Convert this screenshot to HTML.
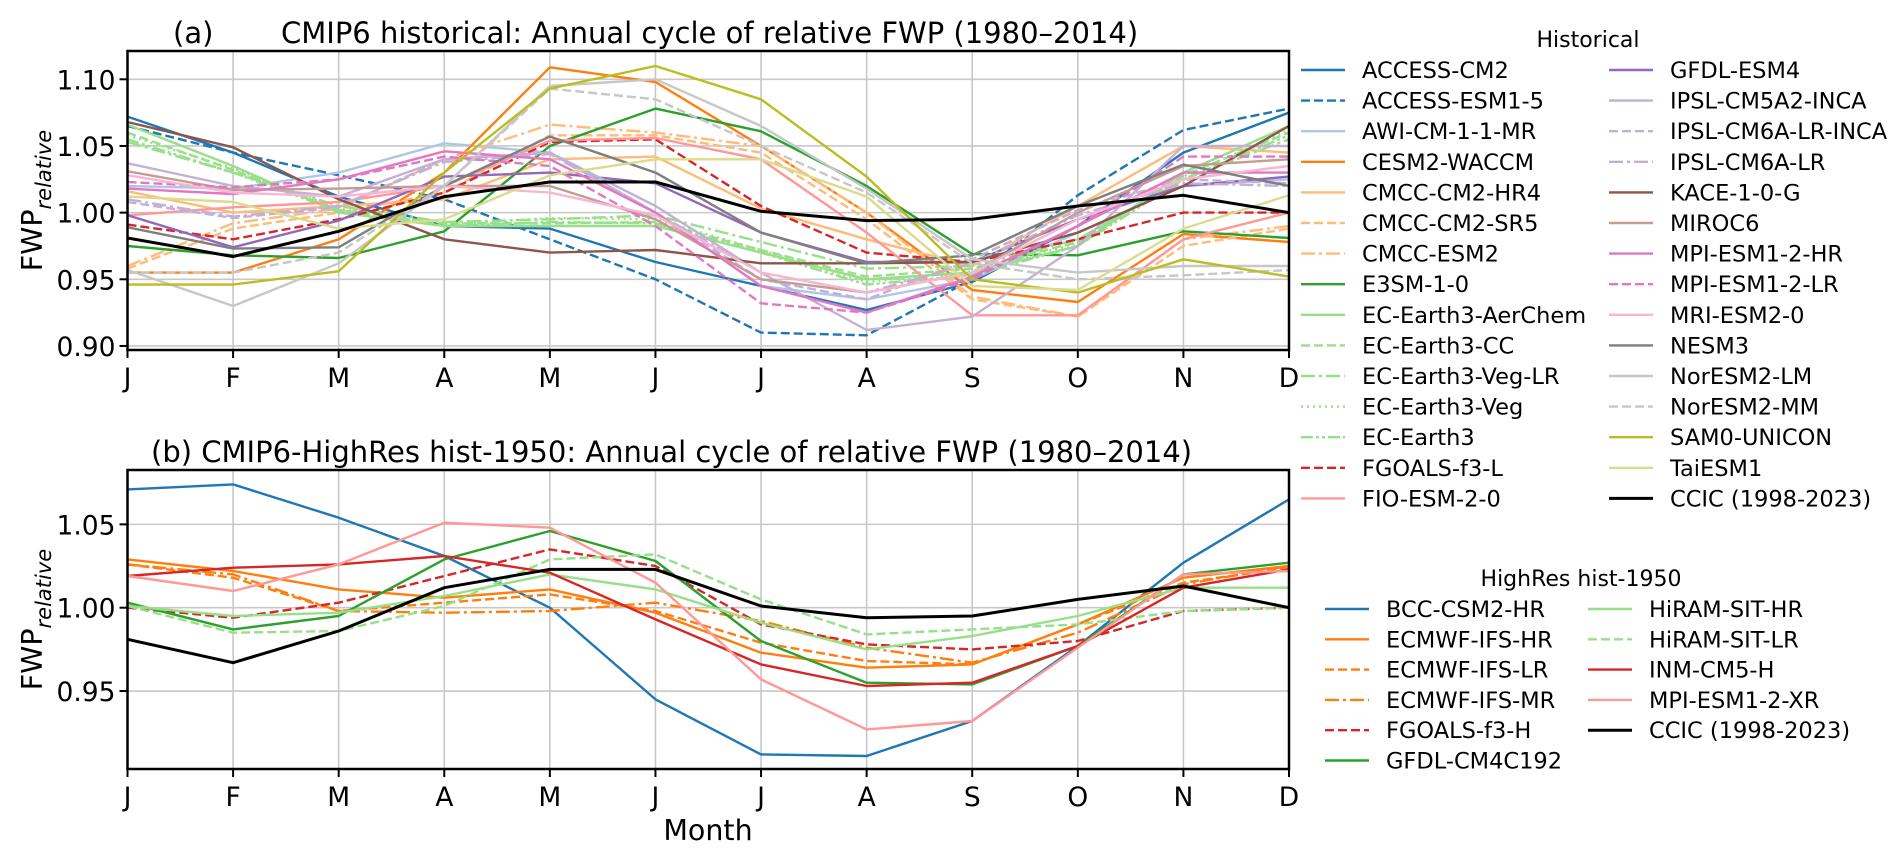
<!DOCTYPE html>
<html><head><meta charset="utf-8"><style>
html,body{margin:0;padding:0;background:#fff;}
svg{display:block;font-family:"DejaVu Sans","Liberation Sans",sans-serif;}
</style></head><body>
<svg id="fig" width="1892" height="860" viewBox="0 0 1892 860" xmlns="http://www.w3.org/2000/svg"></svg>
<script>
const months = ["J","F","M","A","M","J","J","A","S","O","N","D"];
const yTicksA = [0.90, 0.95, 1.00, 1.05, 1.10];
const yTickLabelsA = ["0.90","0.95","1.00","1.05","1.10"];
const yTicksB = [0.95, 1.00, 1.05];
const yTickLabelsB = ["0.95","1.00","1.05"];

const histNames = ["ACCESS-CM2","ACCESS-ESM1-5","AWI-CM-1-1-MR","CESM2-WACCM","CMCC-CM2-HR4","CMCC-CM2-SR5","CMCC-ESM2","E3SM-1-0","EC-Earth3-AerChem","EC-Earth3-CC","EC-Earth3-Veg-LR","EC-Earth3-Veg","EC-Earth3","FGOALS-f3-L","FIO-ESM-2-0","GFDL-ESM4","IPSL-CM5A2-INCA","IPSL-CM6A-LR-INCA","IPSL-CM6A-LR","KACE-1-0-G","MIROC6","MPI-ESM1-2-HR","MPI-ESM1-2-LR","MRI-ESM2-0","NESM3","NorESM2-LM","NorESM2-MM","SAM0-UNICON","TaiESM1","CCIC (1998-2023)"];
const histValues = [
[1.072,1.045,1.012,0.990,0.988,0.963,0.945,0.927,0.948,0.990,1.045,1.075],
[1.065,1.045,1.028,1.010,0.980,0.950,0.910,0.908,0.950,1.013,1.062,1.078],
[1.020,1.018,1.030,1.052,1.045,1.000,0.945,0.935,0.950,0.985,1.020,1.025],
[0.955,0.955,0.980,1.030,1.109,1.098,1.050,1.000,0.942,0.933,0.984,0.978],
[1.016,1.000,1.005,1.010,1.040,1.042,1.003,0.980,0.960,1.005,1.050,1.045],
[0.958,0.988,1.000,1.015,1.058,1.058,1.045,0.995,0.935,0.922,0.975,0.988],
[0.960,0.992,1.003,1.040,1.066,1.060,1.050,1.000,0.937,0.922,0.980,0.990],
[0.975,0.968,0.966,0.986,1.050,1.078,1.061,1.020,0.969,0.968,0.986,0.981],
[1.066,1.035,1.000,0.990,0.990,0.990,0.970,0.950,0.955,0.975,1.030,1.065],
[1.060,1.032,1.002,0.992,0.992,0.993,0.972,0.952,0.958,0.978,1.028,1.060],
[1.053,1.030,1.005,0.993,0.995,0.998,0.978,0.958,0.960,0.980,1.025,1.055],
[1.058,1.033,1.003,0.991,0.996,0.995,0.972,0.948,0.956,0.977,1.027,1.062],
[1.055,1.030,1.001,0.990,0.993,0.992,0.970,0.946,0.953,0.975,1.025,1.058],
[0.991,0.980,0.995,1.015,1.053,1.055,1.005,0.970,0.963,0.980,1.000,1.000],
[0.998,1.004,1.008,1.020,1.054,1.056,1.040,0.985,0.923,0.923,0.980,1.000],
[0.998,0.974,0.994,1.027,1.030,1.022,0.985,0.963,0.963,0.995,1.020,1.027],
[1.037,1.020,1.012,1.040,1.045,1.005,0.955,0.912,0.922,0.975,1.050,1.050],
[1.008,0.996,1.004,1.040,1.045,1.000,0.950,0.935,0.965,1.002,1.025,1.022],
[1.010,0.997,1.005,1.038,1.044,1.000,0.955,0.940,0.962,0.998,1.022,1.020],
[1.068,1.049,1.010,0.980,0.970,0.972,0.962,0.962,0.963,0.985,1.020,1.065],
[1.031,1.017,1.018,1.020,1.020,0.995,0.950,0.940,0.955,1.000,1.035,1.040],
[1.018,1.014,1.025,1.046,1.040,1.000,0.945,0.925,0.952,0.990,1.030,1.030],
[1.023,1.019,1.025,1.042,1.035,0.990,0.932,0.925,0.950,0.990,1.042,1.042],
[1.028,1.015,1.012,1.020,1.015,0.998,0.955,0.940,0.955,0.995,1.025,1.035],
[0.989,0.973,0.974,1.020,1.057,1.030,0.985,0.962,0.968,1.005,1.036,1.020],
[0.957,0.930,0.962,1.020,1.095,1.100,1.065,1.018,0.965,0.955,0.960,0.960],
[0.955,0.955,0.970,1.020,1.093,1.085,1.050,1.015,0.962,0.950,0.953,0.957],
[0.946,0.946,0.956,1.030,1.093,1.110,1.085,1.027,0.950,0.940,0.965,0.952],
[1.012,1.008,0.988,0.995,1.028,1.040,1.040,1.012,0.945,0.942,0.988,1.013],
[0.981,0.967,0.986,1.012,1.023,1.023,1.001,0.994,0.995,1.005,1.013,1.000]
];
const histColors = ["#1f77b4","#1f77b4","#aec7e8","#ff7f0e","#ffbb78","#ffbb78","#ffbb78","#2ca02c","#98df8a","#98df8a","#98df8a","#98df8a","#98df8a","#d62728","#ff9896","#9467bd","#c5b0d5","#c5b0d5","#c5b0d5","#8c564b","#c49c94","#e377c2","#e377c2","#f7b6d2","#7f7f7f","#c7c7c7","#c7c7c7","#bcbd22","#dbdb8d","#000000"];
const histDash = ["","9,4","","","","9,4","14,4,3,4","","","9,4","14,4,3,4","2,4","12,3,3,3,3,3","9,4","","","","9,4","14,4,3,4","","","","9,4","","","","9,4","","",""];

const hrNames = ["BCC-CSM2-HR","ECMWF-IFS-HR","ECMWF-IFS-LR","ECMWF-IFS-MR","FGOALS-f3-H","GFDL-CM4C192","HiRAM-SIT-HR","HiRAM-SIT-LR","INM-CM5-H","MPI-ESM1-2-XR","CCIC (1998-2023)"];
const hrValues = [
[1.071,1.074,1.054,1.031,1.000,0.945,0.912,0.911,0.932,0.977,1.027,1.065],
[1.029,1.022,1.011,1.006,1.011,0.997,0.973,0.964,0.966,0.990,1.018,1.025],
[1.026,1.018,0.998,1.003,1.008,0.998,0.979,0.968,0.966,0.990,1.015,1.024],
[1.026,1.020,0.998,0.997,0.998,1.003,0.992,0.976,0.967,0.985,1.014,1.025],
[1.000,0.994,1.003,1.019,1.035,1.025,0.990,0.978,0.975,0.980,0.998,1.000],
[1.003,0.987,0.995,1.029,1.046,1.028,0.980,0.955,0.954,0.977,1.020,1.027],
[1.001,0.995,0.997,1.007,1.020,1.011,0.991,0.975,0.983,0.995,1.012,1.012],
[1.001,0.985,0.986,1.001,1.029,1.032,1.005,0.984,0.987,0.990,0.998,1.000],
[1.019,1.024,1.026,1.031,1.021,0.993,0.966,0.953,0.955,0.977,1.012,1.023],
[1.019,1.010,1.026,1.051,1.048,1.015,0.957,0.927,0.932,0.976,1.020,1.022],
[0.981,0.967,0.986,1.012,1.023,1.023,1.001,0.994,0.995,1.005,1.013,1.000]
];
const hrColors = ["#1f77b4","#ff7f0e","#ff7f0e","#ff7f0e","#d62728","#2ca02c","#98df8a","#98df8a","#d62728","#ff9896","#000000"];
const hrDash = ["","","9,4","14,4,3,4","9,4","","","9,4","","",""];

const NS = "http://www.w3.org/2000/svg";
const svg = document.getElementById("fig");
function mk(tag, attrs, parent){
  const e = document.createElementNS(NS, tag);
  for (const k in attrs) e.setAttribute(k, attrs[k]);
  (parent||svg).appendChild(e);
  return e;
}
const X0 = 127.5, X1 = 1289;
function xPos(i){ return X0 + i*(X1-X0)/11; }

function panel(cfg){
  const g = mk("g", {});
  
  
  const y = v => cfg.yRef - (v - cfg.vRef) * cfg.ppu;
  const gridG = mk("g", {}, g);
  
  
  for (let i=0;i<12;i++){
    const l = mk("line", {x1:xPos(i), x2:xPos(i), y1:cfg.top, y2:cfg.bottom, stroke:"#c8c8c8", "stroke-width":1.6}, gridG);
    
    
  }
  cfg.yTicks.forEach(v => {
    const l = mk("line", {x1:X0, x2:X1, y1:y(v), y2:y(v), stroke:"#c8c8c8", "stroke-width":1.6}, gridG);
    
    
  });
  const clipId = cfg.name + "-clip";
  const cp = mk("clipPath", {id:clipId}, g);
  mk("rect", {x:X0, y:cfg.top, width:X1-X0, height:cfg.bottom-cfg.top}, cp);
  const lines = mk("g", {"clip-path":"url(#"+clipId+")"}, g);
  
  
  cfg.values.forEach((arr, s) => {
    const pts = arr.map((v,i) => xPos(i).toFixed(1)+","+y(v).toFixed(1)).join(" ");
    const isObs = s === cfg.values.length-1;
    const p = mk("polyline", {points:pts, fill:"none", stroke:cfg.colors[s], "stroke-width": isObs ? 3 : cfg.lw, "stroke-linejoin":"round"}, lines);
    if (cfg.dash[s]) p.setAttribute("stroke-dasharray", cfg.dash[s]);
    
    
  });
  const frame = mk("rect", {x:X0, y:cfg.top, width:X1-X0, height:cfg.bottom-cfg.top, fill:"none", stroke:"#000", "stroke-width":2.5}, g);
  
  
  months.forEach((m,i) => {
    const t = mk("line", {x1:xPos(i), x2:xPos(i), y1:cfg.bottom, y2:cfg.bottom+8, stroke:"#000", "stroke-width":2}, g);
    
    
    const tx = mk("text", {x:xPos(i), y:cfg.bottom+37, "font-size":26.5, "text-anchor":"middle", fill:"#000"}, g);
    tx.textContent = m;
    
    
  });
  cfg.yTicks.forEach((v,i) => {
    const t = mk("line", {x1:X0-8, x2:X0, y1:y(v), y2:y(v), stroke:"#000", "stroke-width":2}, g);
    
    
    const tx = mk("text", {x:X0-12, y:y(v)+10, "font-size":26.5, "text-anchor":"end", fill:"#000"}, g);
    tx.textContent = cfg.yLabels[i];
    
    
  });
  const cy = (cfg.top+cfg.bottom)/2;
  const yl = mk("text", {x:0, y:0, "font-size":28.5, "text-anchor":"middle", transform:"translate(42,"+cy+") rotate(-90)", fill:"#000"}, g);
  yl.innerHTML = 'FWP<tspan font-size="21" font-style="italic" dy="9">relative</tspan>';
  
  
  return y;
}

panel({name:"panel-a-historical", top:51, bottom:350, yRef:79.3, vRef:1.10, ppu:1333.3, yTicks:yTicksA, yLabels:yTickLabelsA, values:histValues, colors:histColors, dash:histDash, names:histNames, lw:2.4});
panel({name:"panel-b-highres", top:470, bottom:769, yRef:607.7, vRef:1.00, ppu:1666.7, yTicks:yTicksB, yLabels:yTickLabelsB, values:hrValues, colors:hrColors, dash:hrDash, names:hrNames, lw:2.4});

function legend(name, title, tx, ty, names, colors, dash, cols){
  const g = mk("g", {});
  
  
  const t = mk("text", {x:tx, y:ty+8, "font-size":22, "text-anchor":"middle", fill:"#000"}, g);
  t.textContent = title;
  
  
  names.forEach((n,i) => {
    const c = i < cols.perCol ? 0 : 1;
    const r = c === 0 ? i : i - cols.perCol;
    const yy = cols.y0 + r*cols.step;
    const e = mk("g", {}, g);
    
    
    const l = mk("line", {x1:cols.lx[c], x2:cols.lx[c]+44, y1:yy, y2:yy, stroke:colors[i], "stroke-width": i===names.length-1 ? 3 : 2.4}, e);
    if (dash[i]) l.setAttribute("stroke-dasharray", dash[i]);
    const tt = mk("text", {x:cols.tx[c], y:yy+8, "font-size":22.5, fill:"#000"}, e);
    tt.textContent = n;
  });
}
legend("legend-historical", "Historical", 1588, 39, histNames, histColors, histDash, {perCol:15, y0:70, step:30.6, lx:[1301,1609], tx:[1362,1670]});
legend("legend-highres", "HighRes hist-1950", 1581, 578, hrNames, hrColors, hrDash, {perCol:6, y0:609, step:30.3, lx:[1325,1588], tx:[1386,1649]});

const ta = mk("text", {x:173, y:43, "font-size":29, fill:"#000"});
ta.textContent = "(a)";


const tta = mk("text", {x:281, y:43, "font-size":29, fill:"#000"});
tta.textContent = "CMIP6 historical: Annual cycle of relative FWP (1980\u20132014)";


const ttb = mk("text", {x:151, y:462, "font-size":29, fill:"#000"});
ttb.textContent = "(b)  CMIP6-HighRes hist-1950: Annual cycle of relative FWP (1980\u20132014)";


const xl = mk("text", {x:708, y:840, "font-size":28.5, "text-anchor":"middle", fill:"#000"});
xl.textContent = "Month";


</script>
</body></html>
